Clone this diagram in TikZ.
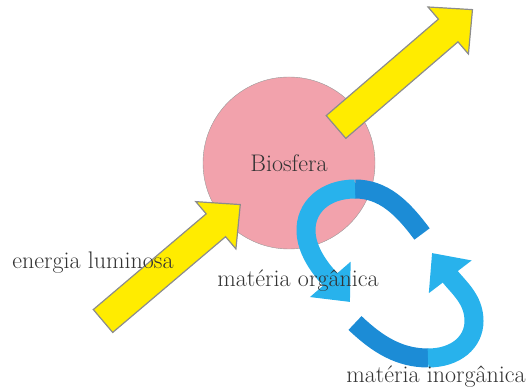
\documentclass[tikz,border=0pt]{standalone}
\usepackage{tikz}
\usetikzlibrary{arrows.meta}
\definecolor{sunyellow}{RGB}{255,236,0}
\definecolor{biopink}{RGB}{242,162,172}
\definecolor{cycledark}{RGB}{28,140,214}
\definecolor{cyclelight}{RGB}{40,178,236}

\begin{document}
\begin{tikzpicture}[x=1pt,y=1pt,>={Triangle[length=30pt,width=52pt]},
fatarrow/.style={fill=sunyellow,draw=black!45,line width=1.2pt,line join=miter},
bluecycle/.style={line width=19pt},
txt/.style={text=black!80,font=\fontsize{24}{28}\selectfont}]
\useasboundingbox (0,0) rectangle (526,387);
% biosphere
\node[circle,minimum size=172pt,inner sep=0pt,fill=biopink,draw=black!40,txt] (bio) at (289,224) {Biosfera};
% light going in and out
\coordinate (inTail) at (103,66);
\coordinate (outTail) at (336,260);
\draw[fatarrow,shift={(inTail)},rotate=40.3] (0,-15)--(148,-15)--(148,-31)--(180,0)--(148,31)--(148,15)--(0,15)--cycle;
\draw[fatarrow,shift={(outTail)},rotate=40.7] (0,-15)--(148,-15)--(148,-31)--(180,0)--(148,31)--(148,15)--(0,15)--cycle;
% cycle of matter
\coordinate (upTail) at (422,153);
\coordinate (upTop) at (355,198);
\coordinate (upTip) at (350,85);
\coordinate (lowTail) at (355,64);
\coordinate (lowBottom) at (428,29);
\coordinate (lowTip) at (432,134);
\draw[bluecycle,cycledark] (upTail) .. controls (402,180) and (383,198) .. (upTop);
\draw[bluecycle,cyclelight,->] (upTop) .. controls (325,198) and (305,180) .. (306,155)
.. controls (307,130) and (330,108) .. (upTip);
\draw[bluecycle,cycledark] (lowTail) .. controls (378,42) and (400,29) .. (lowBottom);
\draw[bluecycle,cyclelight,->] (lowBottom) .. controls (456,29) and (474,45) .. (474,66)
.. controls (474,88) and (458,100) .. (lowTip);
% labels
\node[txt] (light) at (93,124) {energia luminosa};
\node[txt] (organic) at (298,106) {matéria orgânica};
\node[txt] (inorganic) at (436,10) {matéria inorgânica};
\end{tikzpicture}
\end{document}
